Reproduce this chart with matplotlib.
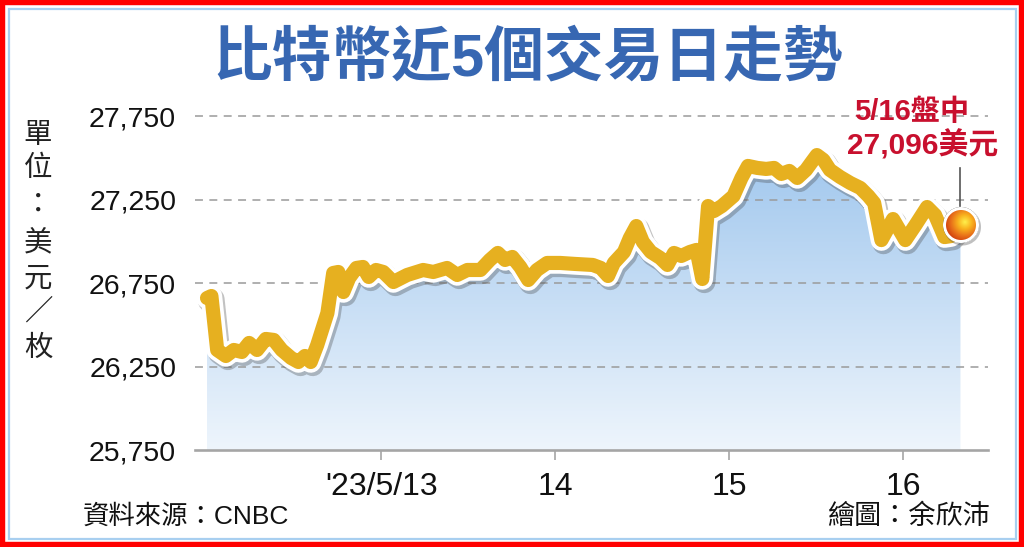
import numpy as np
import matplotlib
matplotlib.use("Agg")
import matplotlib.pyplot as plt
from matplotlib import patheffects as pe
from matplotlib.patches import Rectangle
from matplotlib.lines import Line2D
from matplotlib.colors import LinearSegmentedColormap, to_rgb
from matplotlib.ticker import FixedLocator, FuncFormatter

plt.rcParams["font.family"] = ["Liberation Sans", "Noto Sans CJK TC", "DejaVu Sans"]

# Hours elapsed since 2023-05-12 00:00 and Bitcoin price (USD per coin)
hours = [0.0, 0.6, 1.4, 2.6, 3.7, 4.8, 5.8, 6.9, 8.1, 9.2,
         10.3, 11.6, 12.6, 13.5, 14.3, 15.2, 16.6, 17.4, 18.1, 18.8,
         19.6, 20.6, 21.5, 22.3, 23.3, 24.3, 25.7, 27.6, 29.8, 31.2,
         33.1, 34.5, 35.9, 37.7, 39.0, 40.1, 41.1, 42.1, 43.2, 44.3,
         45.5, 46.9, 48.7, 50.8, 53.2, 54.3, 55.3, 56.1, 57.5, 58.3,
         59.2, 60.1, 61.2, 62.5, 63.5, 64.4, 65.4, 66.6, 67.5, 68.3,
         69.1, 69.9, 71.0, 72.6, 73.7, 74.6, 75.9, 77.1, 78.2, 79.2,
         80.3, 81.4, 82.6, 83.3, 84.1, 85.0, 85.9, 87.3, 88.7, 90.1,
         91.2, 92.0, 93.0, 94.6, 96.3, 97.7, 99.3, 100.4, 101.7, 102.6,
         103.9]
prices = [26660, 26672, 26349, 26313, 26349, 26337, 26391, 26349, 26415, 26409,
          26349, 26301, 26277, 26313, 26277, 26379, 26570, 26810, 26816, 26696,
          26780, 26840, 26846, 26786, 26828, 26816, 26756, 26798, 26828, 26816,
          26840, 26798, 26828, 26828, 26888, 26930, 26888, 26906, 26846, 26768,
          26828, 26870, 26870, 26864, 26858, 26840, 26792, 26870, 26936, 27019,
          27091, 26996, 26936, 26900, 26858, 26930, 26912, 26936, 26948, 26774,
          27211, 27181, 27211, 27271, 27379, 27451, 27439, 27433, 27439, 27403,
          27421, 27379, 27427, 27469, 27516, 27487, 27427, 27385, 27349, 27319,
          27271, 27229, 27007, 27133, 27007, 27097, 27205, 27157, 27025, 27031,
          27096]

day_ticks = [24, 48, 72, 96]
day_labels = ["'23/5/13", "14", "15", "16"]
price_ticks = [25750, 26250, 26750, 27250, 27750]
grid_levels = [26250, 26750, 27250, 27750]
last_price = 27096

title_text = "比特幣近5個交易日走勢"
unit_text = "單位：美元／枚"
source_text = "資料來源：CNBC"
credit_text = "繪圖：余欣沛"
note_time = "5/16盤中"
note_price = f"{last_price:,}美元"

GOLD = "#E6B020"
TITLE_BLUE = "#3767B2"
NOTE_RED = "#C8102E"

W, H = 1024, 547
fig = plt.figure(figsize=(W / 100, H / 100), dpi=100)
fig.patch.set_facecolor("white")

# frame: red outer border with a thin light-blue inner rule
fig.add_artist(Rectangle((0, 0), 1, 1, transform=fig.transFigure, fill=False,
                         edgecolor="#FF0000", linewidth=7.5, zorder=20))
fig.add_artist(Rectangle((8.5 / W, 8.5 / H), 1 - 17 / W, 1 - 17 / H,
                         transform=fig.transFigure, fill=False,
                         edgecolor="#A8CFF0", linewidth=1.6, zorder=20))

ax = fig.add_axes([195 / W, 1 - 450 / H, (988 - 195) / W, 350.7 / H])
ax.patch.set_alpha(0)

# gradient area under the price line
area = ax.fill_between(hours, prices, price_ticks[0], facecolor="none",
                       edgecolor="none")
grad = np.linspace(0, 1, 256).reshape(-1, 1)
fill_cmap = LinearSegmentedColormap.from_list("fill", ["#EEF5FC", "#A2C8EE"])
img = ax.imshow(grad, extent=[hours[0], hours[-1], price_ticks[0], 27500],
                origin="lower", cmap=fill_cmap, aspect="auto", zorder=1,
                interpolation="bilinear")
img.set_clip_path(area.get_paths()[0], transform=ax.transData)

ax.set_xlim(-1.66, 107.7)
ax.set_ylim(25750, 27850)

for lvl in grid_levels:
    ax.axhline(lvl, color="#9A9A9A", lw=1.1, ls=(0, (5.2, 4.2)), zorder=2)

# price line: gold stroke with a white outline and soft shadow
ax.plot(hours, prices, color=GOLD, lw=10.2, solid_capstyle="round",
        solid_joinstyle="round", zorder=4,
        path_effects=[
            pe.SimpleLineShadow(offset=(1.5, -2.2), shadow_color="#444444",
                                alpha=0.32, linewidth=16,
                                capstyle="round", joinstyle="round"),
            pe.Stroke(linewidth=15.5, foreground="white",
                      capstyle="round", joinstyle="round"),
            pe.Normal()])

for side in ("top", "right", "left"):
    ax.spines[side].set_visible(False)
ax.spines["bottom"].set_color("#A5A5A5")
ax.spines["bottom"].set_linewidth(1.9)
ax.spines["bottom"].set_zorder(3)

ax.xaxis.set_major_locator(FixedLocator(day_ticks))
ax.set_xticklabels(day_labels)
ax.yaxis.set_major_locator(FixedLocator(price_ticks))
ax.yaxis.set_major_formatter(FuncFormatter(lambda v, p: f"{int(v):,}"))
ax.tick_params(axis="x", length=7.5, width=1.2, color="#A5A5A5", pad=8,
               labelsize=23, labelcolor="#111111")
ax.tick_params(axis="y", length=0, pad=13.5, labelsize=20.5,
               labelcolor="#111111")

# end-point ball with a leader line to the note
cx, cy = ax.transData.transform((hours[-1], last_price))
N = 48
yy, xx = np.mgrid[0:N, 0:N]
c = (N - 1) / 2.0
dx = xx - c
dy = -(yy - c)
r = np.hypot(dx, dy)
R_out, R_in = 18.0, 15.0
ball = np.zeros((N, N, 4))
shadow_r = np.hypot(dx - 1.5, dy + 2.0)
sh_a = np.clip(R_out + 1.0 - shadow_r, 0, 1) * 0.35
ball[..., :3] = 0.3
ball[..., 3] = sh_a
white_a = np.clip(R_out + 0.5 - r, 0, 1)
ball[..., :3] = ball[..., :3] * (1 - white_a[..., None]) + white_a[..., None]
ball[..., 3] = np.maximum(ball[..., 3], white_a)
hl = np.hypot(dx - 4.0, dy - 3.0)
t = np.clip(hl / (R_in + 5.0), 0, 1)
stops = [to_rgb("#FFF04C"), to_rgb("#F9B21E"), to_rgb("#E8701A"), to_rgb("#D0400E")]
pos = [0.0, 0.35, 0.7, 1.0]
col = np.stack([np.interp(t, pos, [s[k] for s in stops]) for k in range(3)], axis=-1)
in_a = np.clip(R_in + 0.5 - r, 0, 1)[..., None]
ball[..., :3] = ball[..., :3] * (1 - in_a) + col * in_a
fig.figimage(ball, xo=int(round(cx - c)), yo=int(round(cy - c)), zorder=10,
             origin="upper")

fig.add_artist(Line2D([cx, cx], [cy + 19, cy + 57], color="#555555", lw=1.2,
                      transform=matplotlib.transforms.IdentityTransform(),
                      zorder=11))

fig.text(912 / W, 1 - 112 / H, note_time, ha="center", va="center",
         fontsize=21, fontweight="bold", color=NOTE_RED)
fig.text(923 / W, 1 - 145 / H, note_price, ha="center", va="center",
         fontsize=21.5, fontweight="bold", color=NOTE_RED)

fig.text(528 / W, 1 - 60 / H, title_text, ha="center", va="center",
         fontsize=43, fontweight="bold", color=TITLE_BLUE)

unit_y = [135, 168, 205, 242, 279, 312, 348]
for ch, yp in zip(unit_text, unit_y):
    fig.text(38 / W, 1 - yp / H, ch, ha="center", va="center", fontsize=20.5,
             color="#222222", family=["Noto Sans CJK TC"])

fig.text(83 / W, 1 - 517 / H, source_text, ha="left", va="center",
         fontsize=19, color="#111111")
fig.text(990 / W, 1 - 517 / H, credit_text, ha="right", va="center",
         fontsize=19.5, color="#111111")

fig.savefig("out.png", dpi=100, facecolor="white")
